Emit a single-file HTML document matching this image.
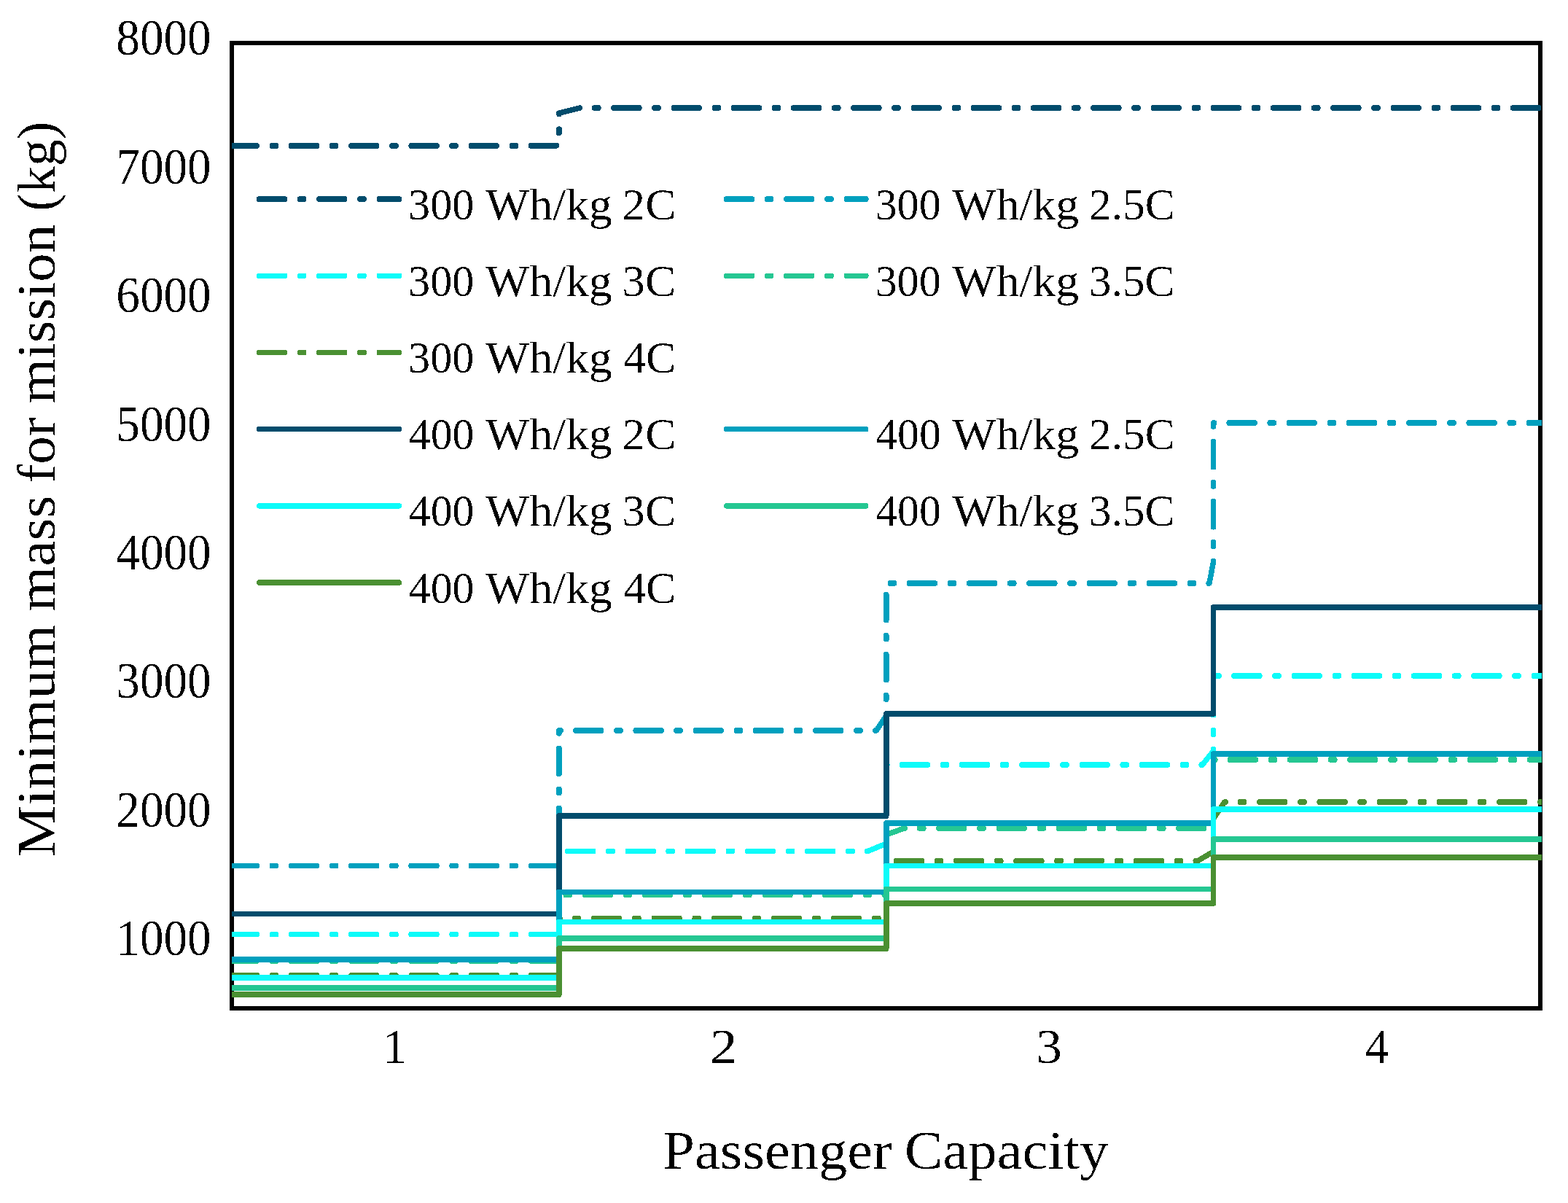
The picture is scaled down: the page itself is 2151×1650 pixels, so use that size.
<!DOCTYPE html>
<html lang="en"><head><meta charset="utf-8"><title>Minimum mass for mission vs passenger capacity</title>
<style>html,body{margin:0;padding:0;background:#fff}body{width:2151px;height:1650px;overflow:hidden}svg{display:block}text{font-family:"Liberation Serif",serif;fill:#000;font-kerning:none;white-space:pre}</style>
</head><body>
<svg width="2151" height="1650" viewBox="0 0 2151 1650" shape-rendering="crispEdges">
<rect width="2151" height="1650" fill="#fff"/>
<defs><filter id="bw" x="0" y="0" width="2151" height="1650" filterUnits="userSpaceOnUse" color-interpolation-filters="sRGB"><feComponentTransfer><feFuncA type="discrete" tableValues="0 0 0 1 1"/></feComponentTransfer></filter></defs>
<defs><clipPath id="ax"><rect x="318" y="59" width="1797.2" height="1324"/></clipPath></defs>
<rect x="318" y="59" width="1795" height="1324" fill="none" stroke="#000" stroke-width="6"/>
<g clip-path="url(#ax)">
<g><rect x="313.7" y="196.25" width="42.2" height="7.5" rx="2.9" fill="#014c6c"/>
<rect x="369.68" y="196.25" width="12.5" height="7.5" rx="2.9" fill="#014c6c"/>
<rect x="395.95" y="196.25" width="42.2" height="7.5" rx="2.9" fill="#014c6c"/>
<rect x="451.92" y="196.25" width="12.5" height="7.5" rx="2.9" fill="#014c6c"/>
<rect x="478.2" y="196.25" width="42.2" height="7.5" rx="2.9" fill="#014c6c"/>
<rect x="534.17" y="196.25" width="12.5" height="7.5" rx="2.9" fill="#014c6c"/>
<rect x="560.45" y="196.25" width="42.2" height="7.5" rx="2.9" fill="#014c6c"/>
<rect x="616.42" y="196.25" width="12.5" height="7.5" rx="2.9" fill="#014c6c"/>
<rect x="642.7" y="196.25" width="42.2" height="7.5" rx="2.9" fill="#014c6c"/>
<rect x="698.67" y="196.25" width="12.5" height="7.5" rx="2.9" fill="#014c6c"/>
<rect x="0" y="-3.75" width="41.95" height="7.5" rx="2.9" fill="#014c6c" transform="translate(724.95 200) rotate(-0.34)"/>
<rect x="0" y="-3.75" width="12.5" height="7.5" rx="2.9" fill="#014c6c" transform="translate(766.9 185.98) rotate(-90)"/>
<path d="M766.9 156.6 L766.9 155.2 L795.18 148.15" fill="none" stroke="#014c6c" stroke-width="7.5" stroke-linejoin="round" stroke-linecap="round"/>
<rect x="812.04" y="144.25" width="12.5" height="7.5" rx="2.9" fill="#014c6c"/>
<rect x="838.31" y="144.25" width="42.2" height="7.5" rx="2.9" fill="#014c6c"/>
<rect x="894.29" y="144.25" width="12.5" height="7.5" rx="2.9" fill="#014c6c"/>
<rect x="920.56" y="144.25" width="42.2" height="7.5" rx="2.9" fill="#014c6c"/>
<rect x="976.54" y="144.25" width="12.5" height="7.5" rx="2.9" fill="#014c6c"/>
<rect x="1002.81" y="144.25" width="42.2" height="7.5" rx="2.9" fill="#014c6c"/>
<rect x="1058.79" y="144.25" width="12.5" height="7.5" rx="2.9" fill="#014c6c"/>
<rect x="1085.06" y="144.25" width="42.2" height="7.5" rx="2.9" fill="#014c6c"/>
<rect x="1141.04" y="144.25" width="12.5" height="7.5" rx="2.9" fill="#014c6c"/>
<rect x="1167.31" y="144.25" width="42.2" height="7.5" rx="2.9" fill="#014c6c"/>
<rect x="1223.29" y="144.25" width="12.5" height="7.5" rx="2.9" fill="#014c6c"/>
<rect x="1249.56" y="144.25" width="42.2" height="7.5" rx="2.9" fill="#014c6c"/>
<rect x="1305.54" y="144.25" width="12.5" height="7.5" rx="2.9" fill="#014c6c"/>
<rect x="1331.81" y="144.25" width="42.2" height="7.5" rx="2.9" fill="#014c6c"/>
<rect x="1387.79" y="144.25" width="12.5" height="7.5" rx="2.9" fill="#014c6c"/>
<rect x="1414.06" y="144.25" width="42.2" height="7.5" rx="2.9" fill="#014c6c"/>
<rect x="1470.04" y="144.25" width="12.5" height="7.5" rx="2.9" fill="#014c6c"/>
<rect x="1496.31" y="144.25" width="42.2" height="7.5" rx="2.9" fill="#014c6c"/>
<rect x="1552.29" y="144.25" width="12.5" height="7.5" rx="2.9" fill="#014c6c"/>
<rect x="1578.56" y="144.25" width="42.2" height="7.5" rx="2.9" fill="#014c6c"/>
<rect x="1634.54" y="144.25" width="12.5" height="7.5" rx="2.9" fill="#014c6c"/>
<rect x="1660.81" y="144.25" width="42.2" height="7.5" rx="2.9" fill="#014c6c"/>
<rect x="1716.79" y="144.25" width="12.5" height="7.5" rx="2.9" fill="#014c6c"/>
<rect x="1743.06" y="144.25" width="42.2" height="7.5" rx="2.9" fill="#014c6c"/>
<rect x="1799.04" y="144.25" width="12.5" height="7.5" rx="2.9" fill="#014c6c"/>
<rect x="1825.31" y="144.25" width="42.2" height="7.5" rx="2.9" fill="#014c6c"/>
<rect x="1881.29" y="144.25" width="12.5" height="7.5" rx="2.9" fill="#014c6c"/>
<rect x="1907.56" y="144.25" width="42.2" height="7.5" rx="2.9" fill="#014c6c"/>
<rect x="1963.54" y="144.25" width="12.5" height="7.5" rx="2.9" fill="#014c6c"/>
<rect x="1989.81" y="144.25" width="42.2" height="7.5" rx="2.9" fill="#014c6c"/>
<rect x="2045.79" y="144.25" width="12.5" height="7.5" rx="2.9" fill="#014c6c"/>
<rect x="2072.06" y="144.25" width="42.2" height="7.5" rx="2.9" fill="#014c6c"/></g>
<g><rect x="313.7" y="1183.75" width="42.2" height="7.5" rx="2.9" fill="#00a0be"/>
<rect x="369.68" y="1183.75" width="12.5" height="7.5" rx="2.9" fill="#00a0be"/>
<rect x="395.95" y="1183.75" width="42.2" height="7.5" rx="2.9" fill="#00a0be"/>
<rect x="451.92" y="1183.75" width="12.5" height="7.5" rx="2.9" fill="#00a0be"/>
<rect x="478.2" y="1183.75" width="42.2" height="7.5" rx="2.9" fill="#00a0be"/>
<rect x="534.17" y="1183.75" width="12.5" height="7.5" rx="2.9" fill="#00a0be"/>
<rect x="560.45" y="1183.75" width="42.2" height="7.5" rx="2.9" fill="#00a0be"/>
<rect x="616.42" y="1183.75" width="12.5" height="7.5" rx="2.9" fill="#00a0be"/>
<rect x="642.7" y="1183.75" width="42.2" height="7.5" rx="2.9" fill="#00a0be"/>
<rect x="698.67" y="1183.75" width="12.5" height="7.5" rx="2.9" fill="#00a0be"/>
<rect x="0" y="-3.75" width="41.95" height="7.5" rx="2.9" fill="#00a0be" transform="translate(724.95 1187.5) rotate(-0.34)"/>
<rect x="0" y="-3.75" width="12.5" height="7.5" rx="2.9" fill="#00a0be" transform="translate(766.9 1173.48) rotate(-90)"/>
<rect x="0" y="-3.75" width="42.2" height="7.5" rx="2.9" fill="#00a0be" transform="translate(766.9 1147.2) rotate(-90)"/>
<rect x="0" y="-3.75" width="12.5" height="7.5" rx="2.9" fill="#00a0be" transform="translate(766.9 1091.23) rotate(-90)"/>
<rect x="0" y="-3.75" width="42.2" height="7.5" rx="2.9" fill="#00a0be" transform="translate(766.9 1064.95) rotate(-90)"/>
<path d="M766.9 1005.88 L766.9 1002 L769.32 1002" fill="none" stroke="#00a0be" stroke-width="7.5" stroke-linejoin="round" stroke-linecap="round"/>
<rect x="786.2" y="998.25" width="42.2" height="7.5" rx="2.9" fill="#00a0be"/>
<rect x="842.17" y="998.25" width="12.5" height="7.5" rx="2.9" fill="#00a0be"/>
<rect x="868.45" y="998.25" width="42.2" height="7.5" rx="2.9" fill="#00a0be"/>
<rect x="924.42" y="998.25" width="12.5" height="7.5" rx="2.9" fill="#00a0be"/>
<rect x="950.7" y="998.25" width="42.2" height="7.5" rx="2.9" fill="#00a0be"/>
<rect x="1006.67" y="998.25" width="12.5" height="7.5" rx="2.9" fill="#00a0be"/>
<rect x="1032.95" y="998.25" width="42.2" height="7.5" rx="2.9" fill="#00a0be"/>
<rect x="1088.92" y="998.25" width="12.5" height="7.5" rx="2.9" fill="#00a0be"/>
<rect x="1115.2" y="998.25" width="42.2" height="7.5" rx="2.9" fill="#00a0be"/>
<rect x="1171.17" y="998.25" width="12.5" height="7.5" rx="2.9" fill="#00a0be"/>
<path d="M1200.55 1002 L1202.3 1002 L1215.75 981.5 L1215.75 979.59" fill="none" stroke="#00a0be" stroke-width="7.5" stroke-linejoin="round" stroke-linecap="round"/>
<rect x="0" y="-3.75" width="12.5" height="7.5" rx="2.9" fill="#00a0be" transform="translate(1215.75 962.71) rotate(-90)"/>
<rect x="0" y="-3.75" width="42.2" height="7.5" rx="2.9" fill="#00a0be" transform="translate(1215.75 936.44) rotate(-90)"/>
<rect x="0" y="-3.75" width="12.5" height="7.5" rx="2.9" fill="#00a0be" transform="translate(1215.75 880.46) rotate(-90)"/>
<rect x="0" y="-3.75" width="42.2" height="7.5" rx="2.9" fill="#00a0be" transform="translate(1215.75 854.19) rotate(-90)"/>
<rect x="1217.54" y="796.25" width="12.5" height="7.5" rx="2.9" fill="#00a0be"/>
<rect x="1243.81" y="796.25" width="42.2" height="7.5" rx="2.9" fill="#00a0be"/>
<rect x="1299.79" y="796.25" width="12.5" height="7.5" rx="2.9" fill="#00a0be"/>
<rect x="1326.06" y="796.25" width="42.2" height="7.5" rx="2.9" fill="#00a0be"/>
<rect x="1382.04" y="796.25" width="12.5" height="7.5" rx="2.9" fill="#00a0be"/>
<rect x="1408.31" y="796.25" width="42.2" height="7.5" rx="2.9" fill="#00a0be"/>
<rect x="1464.29" y="796.25" width="12.5" height="7.5" rx="2.9" fill="#00a0be"/>
<rect x="1490.56" y="796.25" width="42.2" height="7.5" rx="2.9" fill="#00a0be"/>
<rect x="1546.54" y="796.25" width="12.5" height="7.5" rx="2.9" fill="#00a0be"/>
<rect x="1572.81" y="796.25" width="42.2" height="7.5" rx="2.9" fill="#00a0be"/>
<rect x="1628.79" y="796.25" width="12.5" height="7.5" rx="2.9" fill="#00a0be"/>
<path d="M1658.16 800 L1659 800 L1664.5 771 L1664.5 769.68" fill="none" stroke="#00a0be" stroke-width="7.5" stroke-linejoin="round" stroke-linecap="round"/>
<rect x="0" y="-3.75" width="12.5" height="7.5" rx="2.9" fill="#00a0be" transform="translate(1664.5 752.8) rotate(-90)"/>
<rect x="0" y="-3.75" width="42.2" height="7.5" rx="2.9" fill="#00a0be" transform="translate(1664.5 726.53) rotate(-90)"/>
<rect x="0" y="-3.75" width="12.5" height="7.5" rx="2.9" fill="#00a0be" transform="translate(1664.5 670.55) rotate(-90)"/>
<rect x="0" y="-3.75" width="42.2" height="7.5" rx="2.9" fill="#00a0be" transform="translate(1664.5 644.28) rotate(-90)"/>
<path d="M1664.5 585.2 L1664.5 580 L1665.6 580" fill="none" stroke="#00a0be" stroke-width="7.5" stroke-linejoin="round" stroke-linecap="round"/>
<rect x="1682.47" y="576.25" width="42.2" height="7.5" rx="2.9" fill="#00a0be"/>
<rect x="1738.45" y="576.25" width="12.5" height="7.5" rx="2.9" fill="#00a0be"/>
<rect x="1764.72" y="576.25" width="42.2" height="7.5" rx="2.9" fill="#00a0be"/>
<rect x="1820.7" y="576.25" width="12.5" height="7.5" rx="2.9" fill="#00a0be"/>
<rect x="1846.97" y="576.25" width="42.2" height="7.5" rx="2.9" fill="#00a0be"/>
<rect x="1902.95" y="576.25" width="12.5" height="7.5" rx="2.9" fill="#00a0be"/>
<rect x="1929.22" y="576.25" width="42.2" height="7.5" rx="2.9" fill="#00a0be"/>
<rect x="1985.2" y="576.25" width="12.5" height="7.5" rx="2.9" fill="#00a0be"/>
<rect x="2011.47" y="576.25" width="42.2" height="7.5" rx="2.9" fill="#00a0be"/>
<rect x="2067.45" y="576.25" width="12.5" height="7.5" rx="2.9" fill="#00a0be"/>
<rect x="2093.72" y="576.25" width="31.28" height="7.5" rx="2.9" fill="#00a0be"/></g>
<g><rect x="313.7" y="1277.95" width="42.2" height="7.5" rx="2.9" fill="#0dfbf9"/>
<rect x="369.68" y="1277.95" width="12.5" height="7.5" rx="2.9" fill="#0dfbf9"/>
<rect x="395.95" y="1277.95" width="42.2" height="7.5" rx="2.9" fill="#0dfbf9"/>
<rect x="451.92" y="1277.95" width="12.5" height="7.5" rx="2.9" fill="#0dfbf9"/>
<rect x="478.2" y="1277.95" width="42.2" height="7.5" rx="2.9" fill="#0dfbf9"/>
<rect x="534.17" y="1277.95" width="12.5" height="7.5" rx="2.9" fill="#0dfbf9"/>
<rect x="560.45" y="1277.95" width="42.2" height="7.5" rx="2.9" fill="#0dfbf9"/>
<rect x="616.42" y="1277.95" width="12.5" height="7.5" rx="2.9" fill="#0dfbf9"/>
<rect x="642.7" y="1277.95" width="42.2" height="7.5" rx="2.9" fill="#0dfbf9"/>
<rect x="698.67" y="1277.95" width="12.5" height="7.5" rx="2.9" fill="#0dfbf9"/>
<rect x="0" y="-3.75" width="41.95" height="7.5" rx="2.9" fill="#0dfbf9" transform="translate(724.95 1281.7) rotate(-0.34)"/>
<rect x="0" y="-3.75" width="12.5" height="7.5" rx="2.9" fill="#0dfbf9" transform="translate(766.9 1267.68) rotate(-90)"/>
<rect x="0" y="-3.75" width="42.2" height="7.5" rx="2.9" fill="#0dfbf9" transform="translate(766.9 1241.4) rotate(-90)"/>
<rect x="0" y="-3.75" width="12.5" height="7.5" rx="2.9" fill="#0dfbf9" transform="translate(766.9 1185.43) rotate(-90)"/>
<rect x="775.25" y="1163.75" width="42.2" height="7.5" rx="2.9" fill="#0dfbf9"/>
<rect x="831.22" y="1163.75" width="12.5" height="7.5" rx="2.9" fill="#0dfbf9"/>
<rect x="857.5" y="1163.75" width="42.2" height="7.5" rx="2.9" fill="#0dfbf9"/>
<rect x="913.47" y="1163.75" width="12.5" height="7.5" rx="2.9" fill="#0dfbf9"/>
<rect x="939.75" y="1163.75" width="42.2" height="7.5" rx="2.9" fill="#0dfbf9"/>
<rect x="995.72" y="1163.75" width="12.5" height="7.5" rx="2.9" fill="#0dfbf9"/>
<rect x="1022" y="1163.75" width="42.2" height="7.5" rx="2.9" fill="#0dfbf9"/>
<rect x="1077.97" y="1163.75" width="12.5" height="7.5" rx="2.9" fill="#0dfbf9"/>
<rect x="1104.25" y="1163.75" width="42.2" height="7.5" rx="2.9" fill="#0dfbf9"/>
<rect x="1160.22" y="1163.75" width="12.5" height="7.5" rx="2.9" fill="#0dfbf9"/>
<path d="M1189.6 1167.5 L1190.5 1167.5 L1215.75 1157 L1215.75 1156.39" fill="none" stroke="#0dfbf9" stroke-width="7.5" stroke-linejoin="round" stroke-linecap="round"/>
<rect x="0" y="-3.75" width="12.5" height="7.5" rx="2.9" fill="#0dfbf9" transform="translate(1215.75 1139.52) rotate(-90)"/>
<rect x="0" y="-3.75" width="42.2" height="7.5" rx="2.9" fill="#0dfbf9" transform="translate(1215.75 1113.24) rotate(-90)"/>
<path d="M1215.75 1054.17 L1215.75 1049 L1216.88 1049" fill="none" stroke="#0dfbf9" stroke-width="7.5" stroke-linejoin="round" stroke-linecap="round"/>
<rect x="1233.76" y="1045.25" width="42.2" height="7.5" rx="2.9" fill="#0dfbf9"/>
<rect x="1289.73" y="1045.25" width="12.5" height="7.5" rx="2.9" fill="#0dfbf9"/>
<rect x="1316.01" y="1045.25" width="42.2" height="7.5" rx="2.9" fill="#0dfbf9"/>
<rect x="1371.98" y="1045.25" width="12.5" height="7.5" rx="2.9" fill="#0dfbf9"/>
<rect x="1398.26" y="1045.25" width="42.2" height="7.5" rx="2.9" fill="#0dfbf9"/>
<rect x="1454.23" y="1045.25" width="12.5" height="7.5" rx="2.9" fill="#0dfbf9"/>
<rect x="1480.51" y="1045.25" width="42.2" height="7.5" rx="2.9" fill="#0dfbf9"/>
<rect x="1536.48" y="1045.25" width="12.5" height="7.5" rx="2.9" fill="#0dfbf9"/>
<rect x="1562.76" y="1045.25" width="42.2" height="7.5" rx="2.9" fill="#0dfbf9"/>
<rect x="1618.73" y="1045.25" width="12.5" height="7.5" rx="2.9" fill="#0dfbf9"/>
<path d="M1648.11 1049 L1649.5 1049 L1664.5 1030 L1664.5 1027.59" fill="none" stroke="#0dfbf9" stroke-width="7.5" stroke-linejoin="round" stroke-linecap="round"/>
<rect x="0" y="-3.75" width="12.5" height="7.5" rx="2.9" fill="#0dfbf9" transform="translate(1664.5 1010.72) rotate(-90)"/>
<rect x="0" y="-3.75" width="42.2" height="7.5" rx="2.9" fill="#0dfbf9" transform="translate(1664.5 984.44) rotate(-90)"/>
<path d="M1666.13 927 L1672.43 927" fill="none" stroke="#0dfbf9" stroke-width="7.5" stroke-linejoin="round" stroke-linecap="round"/>
<rect x="1689.31" y="923.25" width="42.2" height="7.5" rx="2.9" fill="#0dfbf9"/>
<rect x="1745.28" y="923.25" width="12.5" height="7.5" rx="2.9" fill="#0dfbf9"/>
<rect x="1771.56" y="923.25" width="42.2" height="7.5" rx="2.9" fill="#0dfbf9"/>
<rect x="1827.53" y="923.25" width="12.5" height="7.5" rx="2.9" fill="#0dfbf9"/>
<rect x="1853.81" y="923.25" width="42.2" height="7.5" rx="2.9" fill="#0dfbf9"/>
<rect x="1909.78" y="923.25" width="12.5" height="7.5" rx="2.9" fill="#0dfbf9"/>
<rect x="1936.06" y="923.25" width="42.2" height="7.5" rx="2.9" fill="#0dfbf9"/>
<rect x="1992.03" y="923.25" width="12.5" height="7.5" rx="2.9" fill="#0dfbf9"/>
<rect x="2018.31" y="923.25" width="42.2" height="7.5" rx="2.9" fill="#0dfbf9"/>
<rect x="2074.28" y="923.25" width="12.5" height="7.5" rx="2.9" fill="#0dfbf9"/>
<rect x="2100.56" y="923.25" width="24.44" height="7.5" rx="2.9" fill="#0dfbf9"/></g>
<g><rect x="313.7" y="1314.25" width="42.2" height="7.5" rx="2.9" fill="#25c792"/>
<rect x="369.68" y="1314.25" width="12.5" height="7.5" rx="2.9" fill="#25c792"/>
<rect x="395.95" y="1314.25" width="42.2" height="7.5" rx="2.9" fill="#25c792"/>
<rect x="451.92" y="1314.25" width="12.5" height="7.5" rx="2.9" fill="#25c792"/>
<rect x="478.2" y="1314.25" width="42.2" height="7.5" rx="2.9" fill="#25c792"/>
<rect x="534.17" y="1314.25" width="12.5" height="7.5" rx="2.9" fill="#25c792"/>
<rect x="560.45" y="1314.25" width="42.2" height="7.5" rx="2.9" fill="#25c792"/>
<rect x="616.42" y="1314.25" width="12.5" height="7.5" rx="2.9" fill="#25c792"/>
<rect x="642.7" y="1314.25" width="42.2" height="7.5" rx="2.9" fill="#25c792"/>
<rect x="698.67" y="1314.25" width="12.5" height="7.5" rx="2.9" fill="#25c792"/>
<rect x="0" y="-3.75" width="41.95" height="7.5" rx="2.9" fill="#25c792" transform="translate(724.95 1318) rotate(-0.34)"/>
<rect x="0" y="-3.75" width="12.5" height="7.5" rx="2.9" fill="#25c792" transform="translate(766.9 1303.98) rotate(-90)"/>
<rect x="0" y="-3.75" width="42.2" height="7.5" rx="2.9" fill="#25c792" transform="translate(766.9 1277.7) rotate(-90)"/>
<rect x="772.47" y="1223.55" width="12.5" height="7.5" rx="2.9" fill="#25c792"/>
<rect x="798.75" y="1223.55" width="42.2" height="7.5" rx="2.9" fill="#25c792"/>
<rect x="854.72" y="1223.55" width="12.5" height="7.5" rx="2.9" fill="#25c792"/>
<rect x="881" y="1223.55" width="42.2" height="7.5" rx="2.9" fill="#25c792"/>
<rect x="936.97" y="1223.55" width="12.5" height="7.5" rx="2.9" fill="#25c792"/>
<rect x="963.25" y="1223.55" width="42.2" height="7.5" rx="2.9" fill="#25c792"/>
<rect x="1019.22" y="1223.55" width="12.5" height="7.5" rx="2.9" fill="#25c792"/>
<rect x="1045.5" y="1223.55" width="42.2" height="7.5" rx="2.9" fill="#25c792"/>
<rect x="1101.47" y="1223.55" width="12.5" height="7.5" rx="2.9" fill="#25c792"/>
<rect x="1127.75" y="1223.55" width="42.2" height="7.5" rx="2.9" fill="#25c792"/>
<rect x="1183.72" y="1223.55" width="12.5" height="7.5" rx="2.9" fill="#25c792"/>
<path d="M1213.1 1227.3 L1215.75 1227.3 L1215.75 1193.95" fill="none" stroke="#25c792" stroke-width="7.5" stroke-linejoin="round" stroke-linecap="round"/>
<rect x="0" y="-3.75" width="12.5" height="7.5" rx="2.9" fill="#25c792" transform="translate(1215.75 1177.08) rotate(-90)"/>
<path d="M1215.75 1147.7 L1215.75 1145 L1240 1136 L1241.13 1136" fill="none" stroke="#25c792" stroke-width="7.5" stroke-linejoin="round" stroke-linecap="round"/>
<rect x="1258" y="1132.25" width="12.5" height="7.5" rx="2.9" fill="#25c792"/>
<rect x="1284.28" y="1132.25" width="42.2" height="7.5" rx="2.9" fill="#25c792"/>
<rect x="1340.25" y="1132.25" width="12.5" height="7.5" rx="2.9" fill="#25c792"/>
<rect x="1366.53" y="1132.25" width="42.2" height="7.5" rx="2.9" fill="#25c792"/>
<rect x="1422.5" y="1132.25" width="12.5" height="7.5" rx="2.9" fill="#25c792"/>
<rect x="1448.78" y="1132.25" width="42.2" height="7.5" rx="2.9" fill="#25c792"/>
<rect x="1504.75" y="1132.25" width="12.5" height="7.5" rx="2.9" fill="#25c792"/>
<rect x="1531.03" y="1132.25" width="42.2" height="7.5" rx="2.9" fill="#25c792"/>
<rect x="1587" y="1132.25" width="12.5" height="7.5" rx="2.9" fill="#25c792"/>
<rect x="1613.28" y="1132.25" width="42.2" height="7.5" rx="2.9" fill="#25c792"/>
<rect x="0" y="-3.75" width="12.5" height="7.5" rx="2.9" fill="#25c792" transform="translate(1664.5 1131.25) rotate(-90)"/>
<rect x="0" y="-3.75" width="42.2" height="7.5" rx="2.9" fill="#25c792" transform="translate(1664.5 1104.97) rotate(-90)"/>
<path d="M1664.5 1045.9 L1664.5 1042 L1666.9 1042" fill="none" stroke="#25c792" stroke-width="7.5" stroke-linejoin="round" stroke-linecap="round"/>
<rect x="1683.78" y="1038.25" width="42.2" height="7.5" rx="2.9" fill="#25c792"/>
<rect x="1739.75" y="1038.25" width="12.5" height="7.5" rx="2.9" fill="#25c792"/>
<rect x="1766.03" y="1038.25" width="42.2" height="7.5" rx="2.9" fill="#25c792"/>
<rect x="1822" y="1038.25" width="12.5" height="7.5" rx="2.9" fill="#25c792"/>
<rect x="1848.28" y="1038.25" width="42.2" height="7.5" rx="2.9" fill="#25c792"/>
<rect x="1904.25" y="1038.25" width="12.5" height="7.5" rx="2.9" fill="#25c792"/>
<rect x="1930.53" y="1038.25" width="42.2" height="7.5" rx="2.9" fill="#25c792"/>
<rect x="1986.5" y="1038.25" width="12.5" height="7.5" rx="2.9" fill="#25c792"/>
<rect x="2012.78" y="1038.25" width="42.2" height="7.5" rx="2.9" fill="#25c792"/>
<rect x="2068.75" y="1038.25" width="12.5" height="7.5" rx="2.9" fill="#25c792"/>
<rect x="2095.03" y="1038.25" width="29.97" height="7.5" rx="2.9" fill="#25c792"/></g>
<g><rect x="313.7" y="1334.15" width="42.2" height="7.5" rx="2.9" fill="#4a9032"/>
<rect x="369.68" y="1334.15" width="12.5" height="7.5" rx="2.9" fill="#4a9032"/>
<rect x="395.95" y="1334.15" width="42.2" height="7.5" rx="2.9" fill="#4a9032"/>
<rect x="451.92" y="1334.15" width="12.5" height="7.5" rx="2.9" fill="#4a9032"/>
<rect x="478.2" y="1334.15" width="42.2" height="7.5" rx="2.9" fill="#4a9032"/>
<rect x="534.17" y="1334.15" width="12.5" height="7.5" rx="2.9" fill="#4a9032"/>
<rect x="560.45" y="1334.15" width="42.2" height="7.5" rx="2.9" fill="#4a9032"/>
<rect x="616.42" y="1334.15" width="12.5" height="7.5" rx="2.9" fill="#4a9032"/>
<rect x="642.7" y="1334.15" width="42.2" height="7.5" rx="2.9" fill="#4a9032"/>
<rect x="698.67" y="1334.15" width="12.5" height="7.5" rx="2.9" fill="#4a9032"/>
<rect x="0" y="-3.75" width="41.95" height="7.5" rx="2.9" fill="#4a9032" transform="translate(724.95 1337.9) rotate(-0.34)"/>
<rect x="0" y="-3.75" width="12.5" height="7.5" rx="2.9" fill="#4a9032" transform="translate(766.9 1323.88) rotate(-90)"/>
<path d="M766.9 1294.5 L766.9 1259.7 L768.1 1259.7" fill="none" stroke="#4a9032" stroke-width="7.5" stroke-linejoin="round" stroke-linecap="round"/>
<rect x="784.97" y="1255.95" width="12.5" height="7.5" rx="2.9" fill="#4a9032"/>
<rect x="811.25" y="1255.95" width="42.2" height="7.5" rx="2.9" fill="#4a9032"/>
<rect x="867.22" y="1255.95" width="12.5" height="7.5" rx="2.9" fill="#4a9032"/>
<rect x="893.5" y="1255.95" width="42.2" height="7.5" rx="2.9" fill="#4a9032"/>
<rect x="949.47" y="1255.95" width="12.5" height="7.5" rx="2.9" fill="#4a9032"/>
<rect x="975.75" y="1255.95" width="42.2" height="7.5" rx="2.9" fill="#4a9032"/>
<rect x="1031.72" y="1255.95" width="12.5" height="7.5" rx="2.9" fill="#4a9032"/>
<rect x="1058" y="1255.95" width="42.2" height="7.5" rx="2.9" fill="#4a9032"/>
<rect x="1113.97" y="1255.95" width="12.5" height="7.5" rx="2.9" fill="#4a9032"/>
<rect x="1140.25" y="1255.95" width="42.2" height="7.5" rx="2.9" fill="#4a9032"/>
<rect x="1196.22" y="1255.95" width="12.5" height="7.5" rx="2.9" fill="#4a9032"/>
<rect x="0" y="-3.75" width="42.2" height="7.5" rx="2.9" fill="#4a9032" transform="translate(1215.75 1252.95) rotate(-90)"/>
<rect x="0" y="-3.75" width="12.5" height="7.5" rx="2.9" fill="#4a9032" transform="translate(1215.75 1196.98) rotate(-90)"/>
<rect x="1225.85" y="1177.05" width="42.2" height="7.5" rx="2.9" fill="#4a9032"/>
<rect x="1281.82" y="1177.05" width="12.5" height="7.5" rx="2.9" fill="#4a9032"/>
<rect x="1308.1" y="1177.05" width="42.2" height="7.5" rx="2.9" fill="#4a9032"/>
<rect x="1364.07" y="1177.05" width="12.5" height="7.5" rx="2.9" fill="#4a9032"/>
<rect x="1390.35" y="1177.05" width="42.2" height="7.5" rx="2.9" fill="#4a9032"/>
<rect x="1446.32" y="1177.05" width="12.5" height="7.5" rx="2.9" fill="#4a9032"/>
<rect x="1472.6" y="1177.05" width="42.2" height="7.5" rx="2.9" fill="#4a9032"/>
<rect x="1528.57" y="1177.05" width="12.5" height="7.5" rx="2.9" fill="#4a9032"/>
<rect x="1554.85" y="1177.05" width="42.2" height="7.5" rx="2.9" fill="#4a9032"/>
<rect x="1610.82" y="1177.05" width="12.5" height="7.5" rx="2.9" fill="#4a9032"/>
<path d="M1640.2 1180.8 L1643 1180.8 L1664.5 1168 L1664.5 1167.56" fill="none" stroke="#4a9032" stroke-width="7.5" stroke-linejoin="round" stroke-linecap="round"/>
<rect x="0" y="-3.75" width="12.5" height="7.5" rx="2.9" fill="#4a9032" transform="translate(1664.5 1150.69) rotate(-90)"/>
<path d="M1665.44 1121.6 L1680 1100 L1681.05 1100" fill="none" stroke="#4a9032" stroke-width="7.5" stroke-linejoin="round" stroke-linecap="round"/>
<rect x="1697.92" y="1096.25" width="12.5" height="7.5" rx="2.9" fill="#4a9032"/>
<rect x="1724.2" y="1096.25" width="42.2" height="7.5" rx="2.9" fill="#4a9032"/>
<rect x="1780.17" y="1096.25" width="12.5" height="7.5" rx="2.9" fill="#4a9032"/>
<rect x="1806.45" y="1096.25" width="42.2" height="7.5" rx="2.9" fill="#4a9032"/>
<rect x="1862.42" y="1096.25" width="12.5" height="7.5" rx="2.9" fill="#4a9032"/>
<rect x="1888.7" y="1096.25" width="42.2" height="7.5" rx="2.9" fill="#4a9032"/>
<rect x="1944.67" y="1096.25" width="12.5" height="7.5" rx="2.9" fill="#4a9032"/>
<rect x="1970.95" y="1096.25" width="42.2" height="7.5" rx="2.9" fill="#4a9032"/>
<rect x="2026.92" y="1096.25" width="12.5" height="7.5" rx="2.9" fill="#4a9032"/>
<rect x="2053.2" y="1096.25" width="42.2" height="7.5" rx="2.9" fill="#4a9032"/>
<rect x="2109.17" y="1096.25" width="12.5" height="7.5" rx="2.9" fill="#4a9032"/></g>
<g><rect x="313.7" y="1249.75" width="456.95" height="7.5" rx="3.3" fill="#014c6c"/><rect x="-3.75" y="-3.75" width="142" height="7.5" rx="3.3" fill="#014c6c" transform="translate(766.9 1253.5) rotate(-90)"/><rect x="763.15" y="1115.25" width="456.35" height="7.5" rx="3.3" fill="#014c6c"/><rect x="-3.75" y="-3.75" width="147.5" height="7.5" rx="3.3" fill="#014c6c" transform="translate(1215.75 1119) rotate(-90)"/><rect x="1212" y="975.25" width="456.25" height="7.5" rx="3.3" fill="#014c6c"/><rect x="-3.75" y="-3.75" width="153.5" height="7.5" rx="3.3" fill="#014c6c" transform="translate(1664.5 979) rotate(-90)"/><rect x="1660.75" y="829.25" width="464.25" height="7.5" rx="3.3" fill="#014c6c"/></g>
<g><rect x="313.7" y="1312.25" width="456.95" height="7.5" rx="3.3" fill="#00a0be"/><rect x="-3.75" y="-3.75" width="100" height="7.5" rx="3.3" fill="#00a0be" transform="translate(766.9 1316) rotate(-90)"/><rect x="763.15" y="1219.75" width="456.35" height="7.5" rx="3.3" fill="#00a0be"/><rect x="-3.75" y="-3.75" width="102" height="7.5" rx="3.3" fill="#00a0be" transform="translate(1215.75 1223.5) rotate(-90)"/><rect x="1212" y="1125.25" width="456.25" height="7.5" rx="3.3" fill="#00a0be"/><rect x="-3.75" y="-3.75" width="102.4" height="7.5" rx="3.3" fill="#00a0be" transform="translate(1664.5 1129) rotate(-90)"/><rect x="1660.75" y="1030.35" width="464.25" height="7.5" rx="3.3" fill="#00a0be"/></g>
<g><rect x="313.7" y="1337.25" width="456.95" height="7.5" rx="3.3" fill="#0dfbf9"/><rect x="-3.75" y="-3.75" width="83.9" height="7.5" rx="3.3" fill="#0dfbf9" transform="translate(766.9 1341) rotate(-90)"/><rect x="763.15" y="1260.85" width="456.35" height="7.5" rx="3.3" fill="#0dfbf9"/><rect x="-3.75" y="-3.75" width="84.6" height="7.5" rx="3.3" fill="#0dfbf9" transform="translate(1215.75 1264.6) rotate(-90)"/><rect x="1212" y="1183.75" width="456.25" height="7.5" rx="3.3" fill="#0dfbf9"/><rect x="-3.75" y="-3.75" width="85" height="7.5" rx="3.3" fill="#0dfbf9" transform="translate(1664.5 1187.5) rotate(-90)"/><rect x="1660.75" y="1106.25" width="464.25" height="7.5" rx="3.3" fill="#0dfbf9"/></g>
<g><rect x="313.7" y="1351.25" width="456.95" height="7.5" rx="3.3" fill="#25c792"/><rect x="-3.75" y="-3.75" width="75.5" height="7.5" rx="3.3" fill="#25c792" transform="translate(766.9 1355) rotate(-90)"/><rect x="763.15" y="1283.25" width="456.35" height="7.5" rx="3.3" fill="#25c792"/><rect x="-3.75" y="-3.75" width="75" height="7.5" rx="3.3" fill="#25c792" transform="translate(1215.75 1287) rotate(-90)"/><rect x="1212" y="1215.75" width="456.25" height="7.5" rx="3.3" fill="#25c792"/><rect x="-3.75" y="-3.75" width="75.9" height="7.5" rx="3.3" fill="#25c792" transform="translate(1664.5 1219.5) rotate(-90)"/><rect x="1660.75" y="1147.35" width="464.25" height="7.5" rx="3.3" fill="#25c792"/></g>
<g><rect x="313.7" y="1360.25" width="456.95" height="7.5" rx="3.3" fill="#4a9032"/><rect x="-3.75" y="-3.75" width="70.5" height="7.5" rx="3.3" fill="#4a9032" transform="translate(766.9 1364) rotate(-90)"/><rect x="763.15" y="1297.25" width="456.35" height="7.5" rx="3.3" fill="#4a9032"/><rect x="-3.75" y="-3.75" width="69.5" height="7.5" rx="3.3" fill="#4a9032" transform="translate(1215.75 1301) rotate(-90)"/><rect x="1212" y="1235.25" width="456.25" height="7.5" rx="3.3" fill="#4a9032"/><rect x="-3.75" y="-3.75" width="70.5" height="7.5" rx="3.3" fill="#4a9032" transform="translate(1664.5 1239) rotate(-90)"/><rect x="1660.75" y="1172.25" width="464.25" height="7.5" rx="3.3" fill="#4a9032"/></g>
</g>
<g filter="url(#bw)">
<text font-size="68.9"><tspan x="159.32" y="75.3" textLength="130.37" lengthAdjust="spacingAndGlyphs">8000</tspan></text>
<text font-size="68.9"><tspan x="159.32" y="251.71" textLength="130.37" lengthAdjust="spacingAndGlyphs">7000</tspan></text>
<text font-size="68.9"><tspan x="159.32" y="428.12" textLength="130.37" lengthAdjust="spacingAndGlyphs">6000</tspan></text>
<text font-size="68.9"><tspan x="159.32" y="604.53" textLength="130.37" lengthAdjust="spacingAndGlyphs">5000</tspan></text>
<text font-size="68.9"><tspan x="159.32" y="780.94" textLength="130.37" lengthAdjust="spacingAndGlyphs">4000</tspan></text>
<text font-size="68.9"><tspan x="159.32" y="957.35" textLength="130.37" lengthAdjust="spacingAndGlyphs">3000</tspan></text>
<text font-size="68.9"><tspan x="159.32" y="1133.76" textLength="130.37" lengthAdjust="spacingAndGlyphs">2000</tspan></text>
<text font-size="68.9"><tspan x="159.32" y="1310.17" textLength="130.37" lengthAdjust="spacingAndGlyphs">1000</tspan></text>
<text font-size="67.2"><tspan x="524.63" y="1458.2" textLength="33.94" lengthAdjust="spacingAndGlyphs">1</tspan></text>
<text font-size="67.2"><tspan x="973.69" y="1458.2" textLength="37.67" lengthAdjust="spacingAndGlyphs">2</tspan></text>
<text font-size="67.2"><tspan x="1421.19" y="1458.2" textLength="35.59" lengthAdjust="spacingAndGlyphs">3</tspan></text>
<text font-size="67.2"><tspan x="1872.74" y="1458.2" textLength="32.38" lengthAdjust="spacingAndGlyphs">4</tspan></text>
<text font-size="73"><tspan x="909.34" y="1602.8" textLength="314.05" lengthAdjust="spacingAndGlyphs">Passenger</tspan> <tspan x="1240.87" y="1602.8" textLength="279.63" lengthAdjust="spacingAndGlyphs">Capacity</tspan></text>
<text font-size="73" transform="rotate(-90)"><tspan x="-1175.6" y="75" textLength="318.84" lengthAdjust="spacingAndGlyphs">Minimum</tspan> <tspan x="-838.47" y="75" textLength="158.94" lengthAdjust="spacingAndGlyphs">mass</tspan> <tspan x="-662.37" y="75" textLength="89.74" lengthAdjust="spacingAndGlyphs">for</tspan> <tspan x="-553.46" y="75" textLength="245.55" lengthAdjust="spacingAndGlyphs">mission</tspan> <tspan x="-289.65" y="75" textLength="123.09" lengthAdjust="spacingAndGlyphs">(kg)</tspan></text>
<rect x="352" y="269.35" width="42.2" height="7.5" rx="2.9" fill="#014c6c"/>
<rect x="407.98" y="269.35" width="12.5" height="7.5" rx="2.9" fill="#014c6c"/>
<rect x="434.25" y="269.35" width="42.2" height="7.5" rx="2.9" fill="#014c6c"/>
<rect x="490.23" y="269.35" width="12.5" height="7.5" rx="2.9" fill="#014c6c"/>
<rect x="516.5" y="269.35" width="34.7" height="7.5" rx="2.9" fill="#014c6c"/>
<text font-size="61.6"><tspan x="560.12" y="300.6" textLength="90.38" lengthAdjust="spacingAndGlyphs">300</tspan> <tspan x="665.94" y="300.6" textLength="173.88" lengthAdjust="spacingAndGlyphs">Wh/kg</tspan> <tspan x="853.63" y="300.6" textLength="73.66" lengthAdjust="spacingAndGlyphs">2C</tspan></text>
<rect x="993" y="269.35" width="42.2" height="7.5" rx="2.9" fill="#00a0be"/>
<rect x="1048.97" y="269.35" width="12.5" height="7.5" rx="2.9" fill="#00a0be"/>
<rect x="1075.25" y="269.35" width="42.2" height="7.5" rx="2.9" fill="#00a0be"/>
<rect x="1131.22" y="269.35" width="12.5" height="7.5" rx="2.9" fill="#00a0be"/>
<rect x="1157.5" y="269.35" width="34" height="7.5" rx="2.9" fill="#00a0be"/>
<text font-size="61.6"><tspan x="1200.42" y="300.6" textLength="90.38" lengthAdjust="spacingAndGlyphs">300</tspan> <tspan x="1306.24" y="300.6" textLength="173.88" lengthAdjust="spacingAndGlyphs">Wh/kg</tspan> <tspan x="1494" y="300.6" textLength="117.58" lengthAdjust="spacingAndGlyphs">2.5C</tspan></text>
<rect x="352" y="374.54" width="42.2" height="7.5" rx="2.9" fill="#0dfbf9"/>
<rect x="407.98" y="374.54" width="12.5" height="7.5" rx="2.9" fill="#0dfbf9"/>
<rect x="434.25" y="374.54" width="42.2" height="7.5" rx="2.9" fill="#0dfbf9"/>
<rect x="490.23" y="374.54" width="12.5" height="7.5" rx="2.9" fill="#0dfbf9"/>
<rect x="516.5" y="374.54" width="34.7" height="7.5" rx="2.9" fill="#0dfbf9"/>
<text font-size="61.6"><tspan x="560.12" y="405.79" textLength="90.38" lengthAdjust="spacingAndGlyphs">300</tspan> <tspan x="665.94" y="405.79" textLength="173.88" lengthAdjust="spacingAndGlyphs">Wh/kg</tspan> <tspan x="853.37" y="405.79" textLength="73.93" lengthAdjust="spacingAndGlyphs">3C</tspan></text>
<rect x="993" y="374.54" width="42.2" height="7.5" rx="2.9" fill="#25c792"/>
<rect x="1048.97" y="374.54" width="12.5" height="7.5" rx="2.9" fill="#25c792"/>
<rect x="1075.25" y="374.54" width="42.2" height="7.5" rx="2.9" fill="#25c792"/>
<rect x="1131.22" y="374.54" width="12.5" height="7.5" rx="2.9" fill="#25c792"/>
<rect x="1157.5" y="374.54" width="34" height="7.5" rx="2.9" fill="#25c792"/>
<text font-size="61.6"><tspan x="1200.42" y="405.79" textLength="90.38" lengthAdjust="spacingAndGlyphs">300</tspan> <tspan x="1306.24" y="405.79" textLength="173.88" lengthAdjust="spacingAndGlyphs">Wh/kg</tspan> <tspan x="1493.76" y="405.79" textLength="117.83" lengthAdjust="spacingAndGlyphs">3.5C</tspan></text>
<rect x="352" y="479.73" width="42.2" height="7.5" rx="2.9" fill="#4a9032"/>
<rect x="407.98" y="479.73" width="12.5" height="7.5" rx="2.9" fill="#4a9032"/>
<rect x="434.25" y="479.73" width="42.2" height="7.5" rx="2.9" fill="#4a9032"/>
<rect x="490.23" y="479.73" width="12.5" height="7.5" rx="2.9" fill="#4a9032"/>
<rect x="516.5" y="479.73" width="34.7" height="7.5" rx="2.9" fill="#4a9032"/>
<text font-size="61.6"><tspan x="560.12" y="510.98" textLength="90.38" lengthAdjust="spacingAndGlyphs">300</tspan> <tspan x="665.94" y="510.98" textLength="173.88" lengthAdjust="spacingAndGlyphs">Wh/kg</tspan> <tspan x="855.19" y="510.98" textLength="72.01" lengthAdjust="spacingAndGlyphs">4C</tspan></text>
<rect x="352" y="584.92" width="199.2" height="7.5" rx="3.6" fill="#014c6c"/>
<text font-size="61.6"><tspan x="560.83" y="616.17" textLength="89.64" lengthAdjust="spacingAndGlyphs">400</tspan> <tspan x="665.94" y="616.17" textLength="173.88" lengthAdjust="spacingAndGlyphs">Wh/kg</tspan> <tspan x="853.63" y="616.17" textLength="73.66" lengthAdjust="spacingAndGlyphs">2C</tspan></text>
<rect x="993" y="584.92" width="198.5" height="7.5" rx="3.6" fill="#00a0be"/>
<text font-size="61.6"><tspan x="1201.13" y="616.17" textLength="89.64" lengthAdjust="spacingAndGlyphs">400</tspan> <tspan x="1306.24" y="616.17" textLength="173.88" lengthAdjust="spacingAndGlyphs">Wh/kg</tspan> <tspan x="1494" y="616.17" textLength="117.58" lengthAdjust="spacingAndGlyphs">2.5C</tspan></text>
<rect x="352" y="690.11" width="199.2" height="7.5" rx="3.6" fill="#0dfbf9"/>
<text font-size="61.6"><tspan x="560.83" y="721.36" textLength="89.64" lengthAdjust="spacingAndGlyphs">400</tspan> <tspan x="665.94" y="721.36" textLength="173.88" lengthAdjust="spacingAndGlyphs">Wh/kg</tspan> <tspan x="853.37" y="721.36" textLength="73.93" lengthAdjust="spacingAndGlyphs">3C</tspan></text>
<rect x="993" y="690.11" width="198.5" height="7.5" rx="3.6" fill="#25c792"/>
<text font-size="61.6"><tspan x="1201.13" y="721.36" textLength="89.64" lengthAdjust="spacingAndGlyphs">400</tspan> <tspan x="1306.24" y="721.36" textLength="173.88" lengthAdjust="spacingAndGlyphs">Wh/kg</tspan> <tspan x="1493.76" y="721.36" textLength="117.83" lengthAdjust="spacingAndGlyphs">3.5C</tspan></text>
<rect x="352" y="795.3" width="199.2" height="7.5" rx="3.6" fill="#4a9032"/>
<text font-size="61.6"><tspan x="560.83" y="826.55" textLength="89.64" lengthAdjust="spacingAndGlyphs">400</tspan> <tspan x="665.94" y="826.55" textLength="173.88" lengthAdjust="spacingAndGlyphs">Wh/kg</tspan> <tspan x="855.19" y="826.55" textLength="72.01" lengthAdjust="spacingAndGlyphs">4C</tspan></text>
</g>
</svg>
</body></html>
